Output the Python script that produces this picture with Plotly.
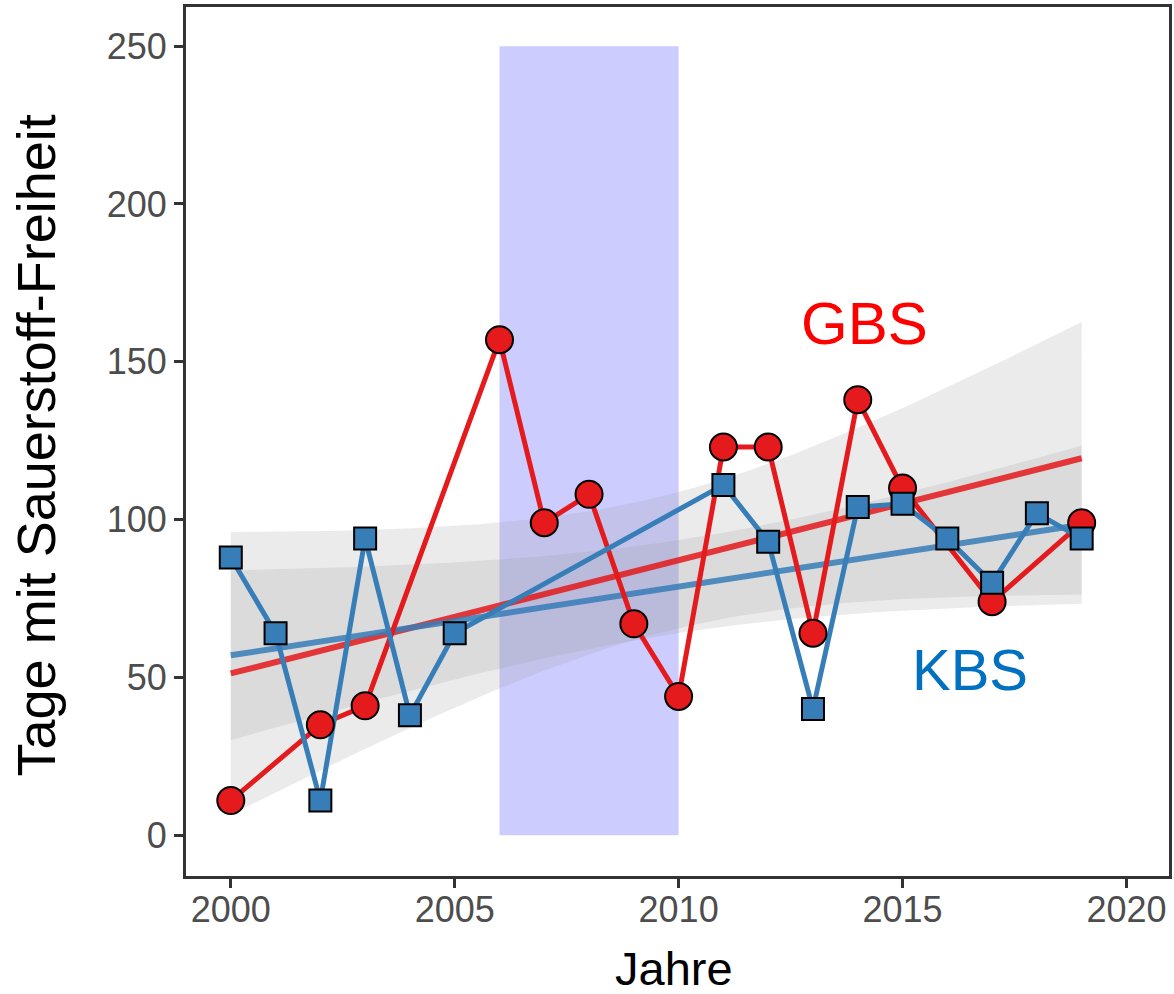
import numpy as np
import plotly.graph_objects as go

# Days without oxygen per year, two monitoring stations
gbs_years = [2000, 2002, 2003, 2006, 2007, 2008, 2009, 2010, 2011, 2012, 2013, 2014, 2015, 2017, 2019]
gbs_days = [11, 35, 41, 157, 99, 108, 67, 44, 123, 123, 64, 138, 110, 74, 99]

kbs_years = [2000, 2001, 2002, 2003, 2004, 2005, 2011, 2012, 2013, 2014, 2015, 2016, 2017, 2018, 2019]
kbs_days = [88, 64, 11, 94, 38, 64, 111, 93, 40, 104, 105, 94, 80, 102, 94]

# highlighted period
period_start, period_end = 2006, 2010
period_top = 250

x_ticks = [2000, 2005, 2010, 2015, 2020]
y_ticks = [0, 50, 100, 150, 200, 250]

RED = "#E41A1C"
BLUE = "#377EB8"
FONT = "Liberation Sans, Arial, sans-serif"
T_975_DF13 = 2.160  # Student t quantile, 13 degrees of freedom


def linear_fit(xs, ys):
    """Least-squares line with a 95% confidence band for the mean."""
    x = np.asarray(xs, float)
    y = np.asarray(ys, float)
    n = len(x)
    slope, intercept = np.polyfit(x, y, 1)
    resid = y - (slope * x + intercept)
    s = np.sqrt(np.sum(resid ** 2) / (n - 2))
    sxx = np.sum((x - x.mean()) ** 2)
    grid = np.linspace(x.min(), x.max(), 80)
    fit = slope * grid + intercept
    se = s * np.sqrt(1.0 / n + (grid - x.mean()) ** 2 / sxx)
    return grid, fit, fit - T_975_DF13 * se, fit + T_975_DF13 * se


fig = go.Figure()

fits = {}
for name, xs, ys in [("GBS", gbs_years, gbs_days), ("KBS", kbs_years, kbs_days)]:
    fits[name] = linear_fit(xs, ys)

# confidence ribbons
for name in ["GBS", "KBS"]:
    grid, fit, lo, hi = fits[name]
    fig.add_trace(go.Scatter(
        x=np.concatenate([grid, grid[::-1]]),
        y=np.concatenate([hi, lo[::-1]]),
        fill="toself", fillcolor="rgba(153,153,153,0.2)",
        line=dict(width=0), mode="lines", hoverinfo="skip", showlegend=False,
    ))

# regression lines
for name, color in [("GBS", RED), ("KBS", BLUE)]:
    grid, fit, lo, hi = fits[name]
    fig.add_trace(go.Scatter(
        x=grid, y=fit, mode="lines",
        line=dict(color=color, width=6), opacity=0.85, showlegend=False,
    ))

# yearly series, lines first
fig.add_trace(go.Scatter(x=gbs_years, y=gbs_days, mode="lines",
                         line=dict(color=RED, width=5), showlegend=False))
fig.add_trace(go.Scatter(x=kbs_years, y=kbs_days, mode="lines",
                         line=dict(color=BLUE, width=5), showlegend=False))

# markers on top
fig.add_trace(go.Scatter(x=gbs_years, y=gbs_days, mode="markers",
                         marker=dict(symbol="circle", size=27, color=RED,
                                     line=dict(color="black", width=2)),
                         showlegend=False))
fig.add_trace(go.Scatter(x=kbs_years, y=kbs_days, mode="markers",
                         marker=dict(symbol="square", size=22, color=BLUE,
                                     line=dict(color="black", width=2)),
                         showlegend=False))

# shaded period
fig.add_shape(type="rect", xref="x", yref="y",
              x0=period_start, x1=period_end, y0=0, y1=period_top,
              fillcolor="rgba(0,0,255,0.2)", line=dict(width=0), layer="below")

# station labels
fig.add_annotation(x=2014.15, y=162, xref="x", yref="y", text="GBS", showarrow=False,
                   font=dict(family=FONT, size=60, color="#FF0000"))
fig.add_annotation(x=2016.5, y=52.5, xref="x", yref="y", text="KBS", showarrow=False,
                   font=dict(family=FONT, size=58, color="#0070C0"))

# axis titles
fig.add_annotation(x=(36 - 186) / 986, y=(876 - 445) / 869, xref="paper", yref="paper",
                   text="Tage mit Sauerstoff-Freiheit", showarrow=False, textangle=-90,
                   xanchor="center", yanchor="middle",
                   font=dict(family=FONT, size=54, color="black"))
fig.add_annotation(x=(675 - 186) / 986, y=-(968 - 876) / 869, xref="paper", yref="paper",
                   text="Jahre", showarrow=False, xanchor="center", yanchor="middle",
                   height=50, valign="middle",
                   font=dict(family=FONT, size=47, color="black"))

axis_common = dict(
    showgrid=False, zeroline=False,
    showline=True, linecolor="#333333", linewidth=3, mirror=True,
    ticks="outside", ticklen=9, tickwidth=2.5, tickcolor="#333333",
    tickfont=dict(family=FONT, size=36, color="#4D4D4D"),
)

fig.update_xaxes(range=[1999.0, 2020.95], tickvals=x_ticks, ticklabelstandoff=-9,
                 **axis_common)
fig.update_yaxes(range=[-12.9, 262.4], tickvals=y_ticks, **axis_common)

fig.update_layout(
    width=1174, height=994,
    margin=dict(l=186, r=2, t=7, b=118),
    plot_bgcolor="white", paper_bgcolor="white",
    showlegend=False,
)

fig.write_html("out.html")
